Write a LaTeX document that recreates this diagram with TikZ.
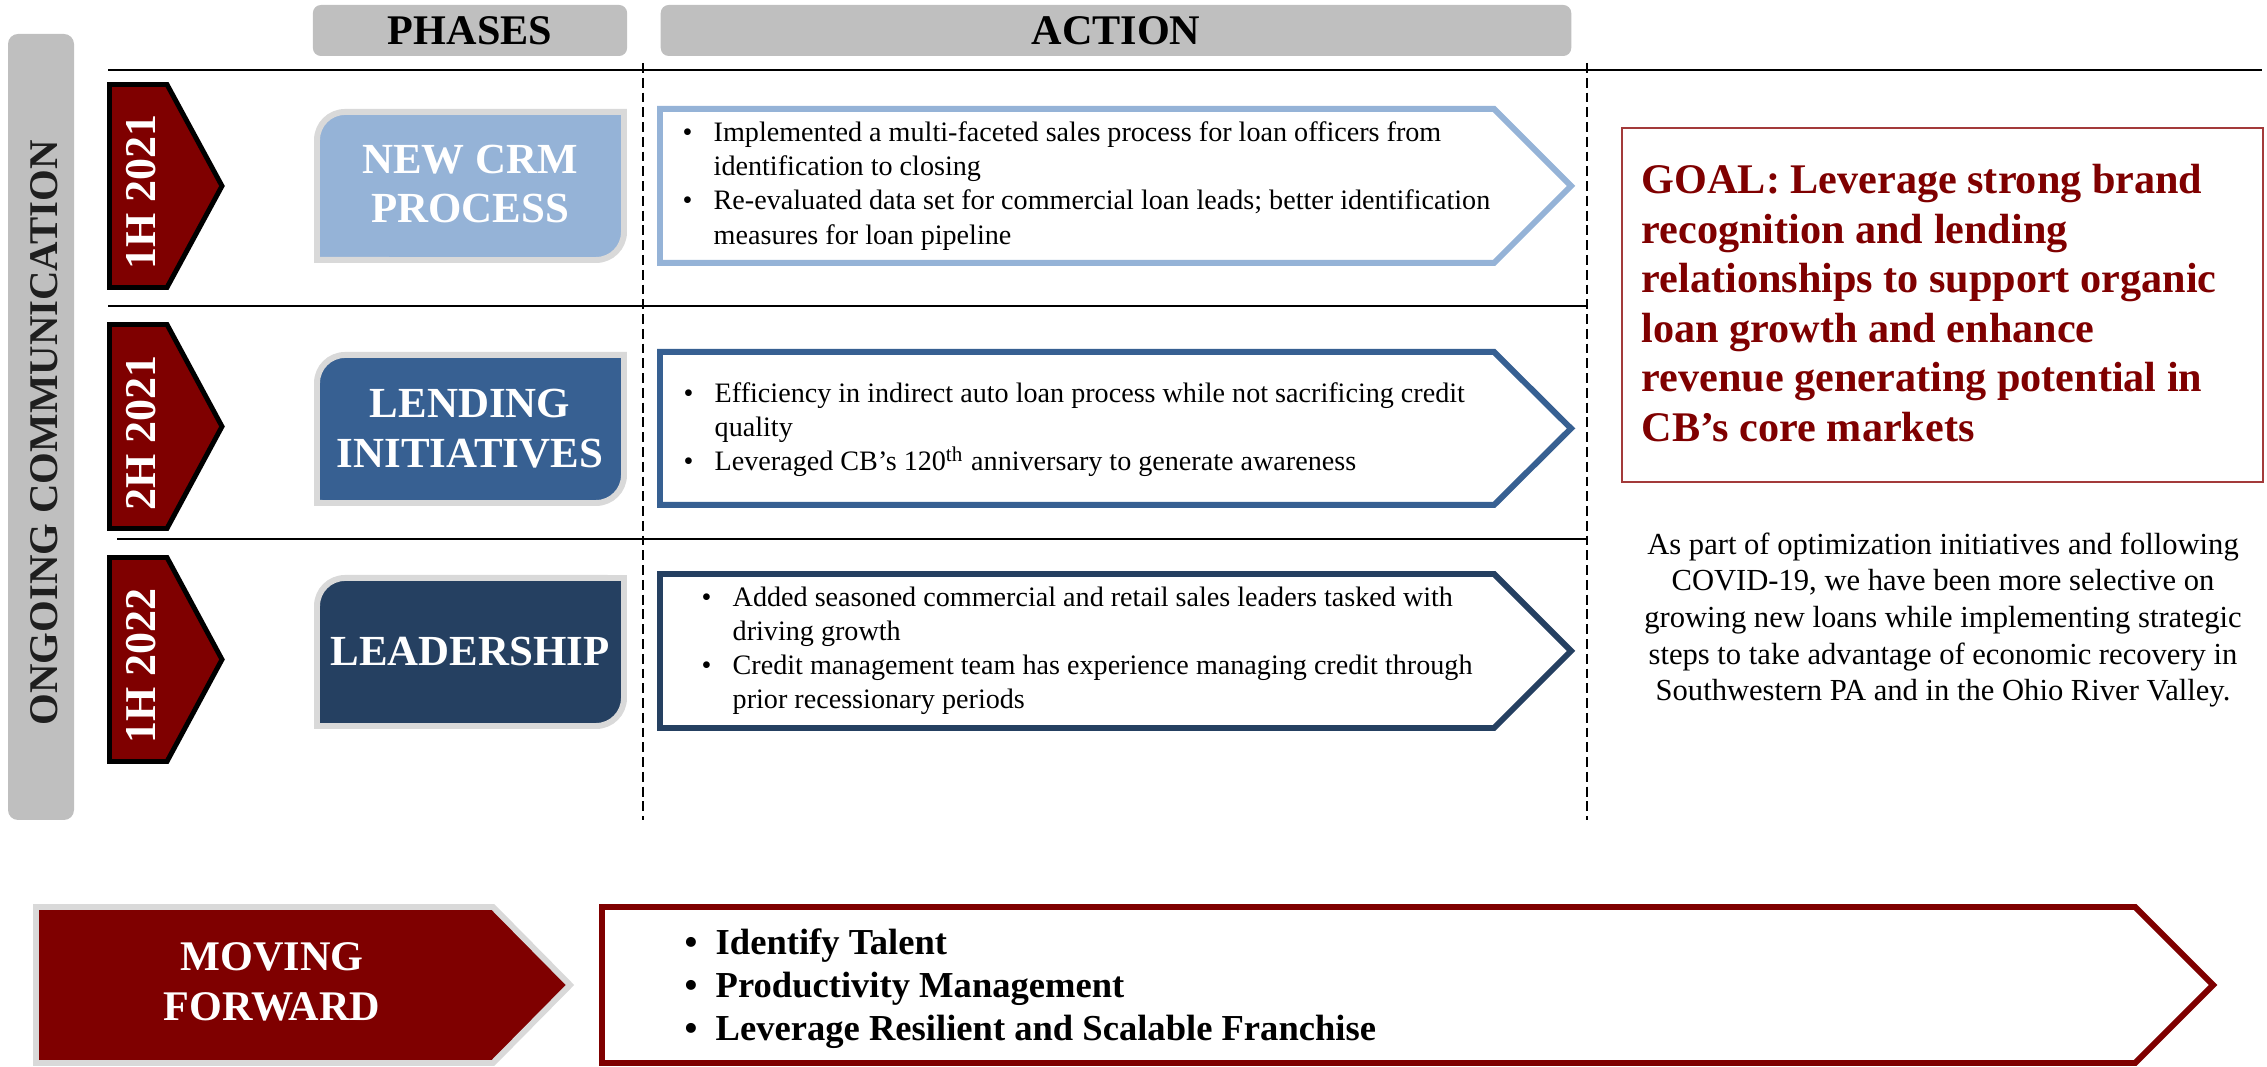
\documentclass[tikz,border=0pt]{standalone}
\usepackage{fontspec}
\setmainfont{Liberation Serif}
\usepackage{tikz}

\definecolor{crmblue}{HTML}{95B3D7}
\definecolor{lendblue}{HTML}{376092}
\definecolor{leadnavy}{HTML}{254061}
\definecolor{barred}{HTML}{7F0000}
\definecolor{headgray}{HTML}{BFBFBF}
\definecolor{edgegray}{HTML}{D9D9D9}
\definecolor{goalline}{HTML}{A33A3A}

\newcommand{\actbullet}{\makebox[0.31cm][l]{\textbullet}}
\newcommand{\actindent}{\hspace*{0.31cm}}

\tikzset{
  header/.style={fill=headgray, rounded corners=0.08cm, inner sep=0pt, minimum height=0.51cm, font=\fontsize{12}{14}\selectfont\bfseries},
  period/.style={fill=barred, draw=black, line width=1.4pt, line join=miter},
  periodtext/.style={rotate=90, text=white, inner sep=0pt, font=\fontsize{12.5}{15}\selectfont\bfseries},
  phasebox/.style={draw=edgegray, line width=1.7pt},
  phasetext/.style={text=white, align=center, inner sep=0pt, font=\fontsize{12.2}{14.2}\selectfont\bfseries},
  actbox/.style={fill=white, line width=1.7pt, line join=miter},
  acttext/.style={anchor=west, align=left, inner sep=0pt, font=\fontsize{8}{9.7}\selectfont},
  divider/.style={line width=0.7pt},
  colsep/.style={line width=0.5pt, dash pattern=on 2.8pt off 1.4pt}
}

\begin{document}
\begin{tikzpicture}[x=0.01cm, y=0.01cm]
  \useasboundingbox (0,0) rectangle (2267,1067);

  % side bar and column headers
  \fill[headgray, rounded corners=0.1cm] (8,247) rectangle (74,1033);
  \node[rotate=90, inner sep=0pt, text=black!88, font=\fontsize{11.6}{14}\selectfont\bfseries] (ongoing) at (44,634) {ONGOING COMMUNICATION};
  \node[header, minimum width=3.14cm] (phases) at (470,1036.5) {PHASES};
  \node[header, minimum width=9.10cm] (action) at (1116,1036.5) {ACTION};

  % grid lines
  \draw[divider] (108,997) -- (2262,997);
  \draw[divider] (108,761) -- (1587,761);
  \draw[divider] (117,528) -- (1587,528);
  \draw[colsep] (643,1004) -- (643,247);
  \draw[colsep] (1587,1004) -- (1587,247);

  % periods
  \draw[period] (109.5,982.5) -- (167,982.5) -- (222,881) -- (167,779.5) -- (109.5,779.5) -- cycle;
  \draw[period] (109.5,742.5) -- (167,742.5) -- (222,640.5) -- (167,538.5) -- (109.5,538.5) -- cycle;
  \draw[period] (109.5,509.5) -- (167,509.5) -- (222,407.5) -- (167,305.5) -- (109.5,305.5) -- cycle;
  \node[periodtext] (half1) at (141,875) {1H 2021};
  \node[periodtext] (half2) at (141,634) {2H 2021};
  \node[periodtext] (half3) at (141,401) {1H 2022};

  % phases
  \draw[phasebox, fill=crmblue] (317,807) -- (317,927) arc[start angle=180, end angle=90, radius=0.28cm] -- (624,955) -- (624,835) arc[start angle=0, end angle=-90, radius=0.28cm] -- cycle;
  \draw[phasebox, fill=lendblue] (317,564) -- (317,684) arc[start angle=180, end angle=90, radius=0.28cm] -- (624,712) -- (624,592) arc[start angle=0, end angle=-90, radius=0.28cm] -- cycle;
  \draw[phasebox, fill=leadnavy] (317,341) -- (317,461) arc[start angle=180, end angle=90, radius=0.28cm] -- (624,489) -- (624,369) arc[start angle=0, end angle=-90, radius=0.28cm] -- cycle;
  \node[phasetext] (crm) at (470,883) {NEW CRM\\PROCESS};
  \node[phasetext] (lending) at (470,638) {LENDING\\INITIATIVES};
  \node[phasetext] (leader) at (470,415) {LEADERSHIP};

  % actions
  \draw[actbox, draw=crmblue] (660,958) -- (1494,958) -- (1571,881) -- (1494,804) -- (660,804) -- cycle;
  \draw[actbox, draw=lendblue] (660,715) -- (1494,715) -- (1571,638.5) -- (1494,562) -- (660,562) -- cycle;
  \draw[actbox, draw=leadnavy] (660,493) -- (1494,493) -- (1571,416) -- (1494,339) -- (660,339) -- cycle;
  \node[acttext] (act1) at (682,881) {\actbullet Implemented a multi-faceted sales process for loan officers from\\
    \actindent identification to closing\\
    \actbullet Re-evaluated data set for commercial loan leads; better identification\\
    \actindent measures for loan pipeline};
  \node[acttext] (act2) at (683,637) {\actbullet Efficiency in indirect auto loan process while not sacrificing credit\\
    \actindent quality\\
    \actbullet Leveraged CB's 120\textsuperscript{th} anniversary to generate awareness};
  \node[acttext] (act3) at (701,416) {\actbullet Added seasoned commercial and retail sales leaders tasked with\\
    \actindent driving growth\\
    \actbullet Credit management team has experience managing credit through\\
    \actindent prior recessionary periods};

  % goal
  \draw[goalline, line width=0.6pt] (1622,585) rectangle (2263,939);
  \node[anchor=west, align=left, inner sep=0pt, text=barred, font=\fontsize{12}{14.1}\selectfont\bfseries] (goal) at (1641,764) {GOAL: Leverage strong brand\\
    recognition and lending\\
    relationships to support organic\\
    loan growth and enhance\\
    revenue generating potential in\\
    CB's core markets};
  \node[align=center, inner sep=0pt, font=\fontsize{8.7}{10.4}\selectfont] (note) at (1943,447) {As part of optimization initiatives and following\\
    COVID-19, we have been more selective on\\
    growing new loans while implementing strategic\\
    steps to take advantage of economic recovery in\\
    Southwestern PA and in the Ohio River Valley.};

  % moving forward
  \draw[fill=barred, draw=edgegray, line width=1.7pt, line join=miter] (36,160) -- (493,160) -- (570,82) -- (493,4) -- (36,4) -- cycle;
  \node[phasetext, font=\fontsize{12}{14.2}\selectfont\bfseries] (moving) at (272,85) {MOVING\\FORWARD};
  \draw[actbox, draw=barred] (602,160) -- (2135,160) -- (2213,82) -- (2135,4) -- (602,4) -- cycle;
  \node[acttext, font=\fontsize{10.4}{12.2}\selectfont\bfseries] (next) at (684,78) {\actbullet Identify Talent\\
    \actbullet Productivity Management\\
    \actbullet Leverage Resilient and Scalable Franchise};
\end{tikzpicture}
\end{document}
